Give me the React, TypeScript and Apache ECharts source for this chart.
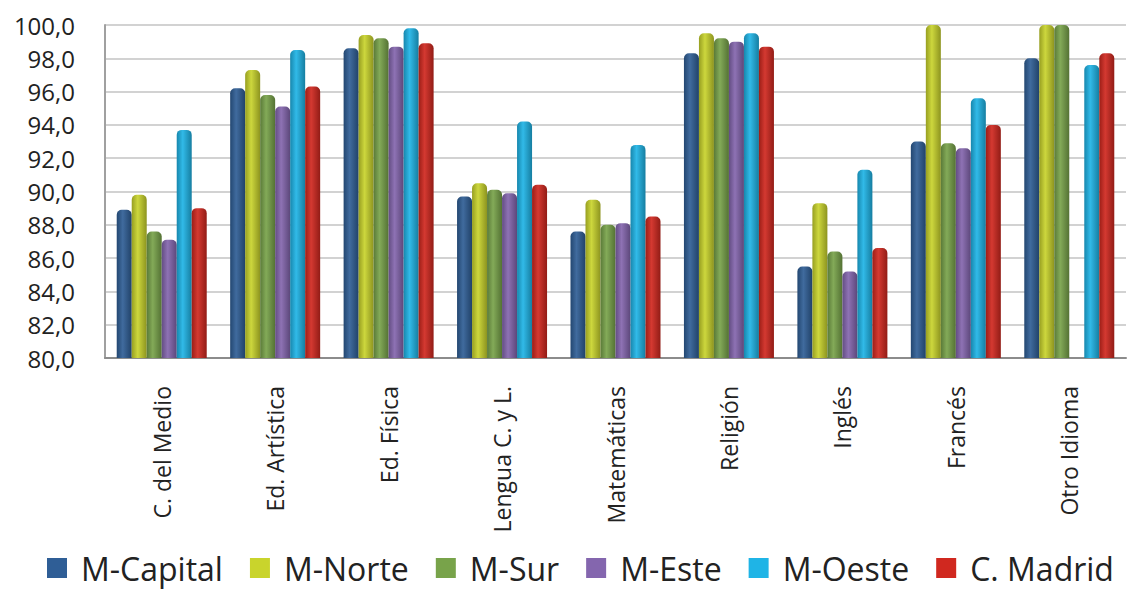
import React, { useEffect, useRef } from "react";
import * as echarts from "echarts";

const categories = [
  "C. del Medio",
  "Ed. Artística",
  "Ed. Física",
  "Lengua C. y L.",
  "Matemáticas",
  "Religión",
  "Inglés",
  "Francés",
  "Otro Idioma",
];

const seriesNames = ["M-Capital", "M-Norte", "M-Sur", "M-Este", "M-Oeste", "C. Madrid"];

const mCapital = [88.9, 96.2, 98.6, 89.7, 87.6, 98.3, 85.5, 93.0, 98.0];
const mNorte = [89.8, 97.3, 99.4, 90.5, 89.5, 99.5, 89.3, 100.0, 100.0];
const mSur = [87.6, 95.8, 99.2, 90.1, 88.0, 99.2, 86.4, 92.9, 100.0];
const mEste = [87.1, 95.1, 98.7, 89.9, 88.1, 99.0, 85.2, 92.6, null];
const mOeste = [93.7, 98.5, 99.8, 94.2, 92.8, 99.5, 91.3, 95.6, 97.6];
const cMadrid = [89.0, 96.3, 98.9, 90.4, 88.5, 98.7, 86.6, 94.0, 98.3];

const seriesData = [mCapital, mNorte, mSur, mEste, mOeste, cMadrid];
const colors = ["#2F5E96", "#C9D42C", "#78A34A", "#8466AE", "#1FB4E6", "#D0281F"];

const yMin = 80;
const yMax = 100;
const yStep = 2;

function shade(hex: string, f: number): string {
  const n = parseInt(hex.slice(1), 16);
  let r = (n >> 16) & 255, g = (n >> 8) & 255, b = n & 255;
  if (f < 0) {
    r = Math.round(r * (1 + f)); g = Math.round(g * (1 + f)); b = Math.round(b * (1 + f));
  } else {
    r = Math.round(r + (255 - r) * f); g = Math.round(g + (255 - g) * f); b = Math.round(b + (255 - b) * f);
  }
  return `rgb(${r},${g},${b})`;
}

export default function App() {
  const ref = useRef<HTMLDivElement>(null);
  useEffect(() => {
    document.body.style.margin = "0";
    if (!ref.current) return;
    const chart = echarts.init(ref.current, null, { renderer: "svg" });
    const font = "'Open Sans', sans-serif";
    chart.setOption({
      animation: false,
      backgroundColor: "#ffffff",
      grid: { left: 105, width: 1021, top: 25, height: 333 },
      legend: {
        left: 47,
        top: 551,
        padding: 0,
        itemWidth: 20,
        itemHeight: 20,
        itemGap: 27,
        icon: "rect",
        textStyle: {
          fontFamily: font,
          fontSize: 32,
          lineHeight: 34,
          color: "#222",
          padding: [0, 0, 0, 9],
        },
        data: seriesNames.map((n, i) => ({ name: n, itemStyle: { color: colors[i] } })),
      },
      xAxis: {
        type: "category",
        data: categories,
        axisLine: { lineStyle: { color: "#8c8c8c", width: 2 } },
        axisTick: { show: false },
        axisLabel: {
          rotate: 90,
          margin: 28,
          fontFamily: font,
          fontSize: 23,
          color: "#222",
        },
      },
      yAxis: {
        type: "value",
        min: yMin,
        max: yMax,
        interval: yStep,
        axisLine: { show: true, lineStyle: { color: "#a0a0a0", width: 2 } },
        axisTick: { show: false },
        splitLine: { lineStyle: { color: "#d2d2d2", width: 2 } },
        axisLabel: {
          margin: 30,
          fontFamily: font,
          fontSize: 24,
          color: "#222",
          formatter: (v: number) => v.toFixed(1).replace(".", ","),
        },
      },
      series: seriesNames.map((name, i) => ({
        name,
        type: "bar",
        data: seriesData[i],
        barWidth: 15,
        barGap: "0%",
        color: colors[i],
        itemStyle: {
          borderRadius: [5, 5, 0, 0],
          color: new echarts.graphic.LinearGradient(0, 0, 1, 0, [
            { offset: 0, color: shade(colors[i], -0.25) },
            { offset: 0.4, color: shade(colors[i], 0.08) },
            { offset: 1, color: shade(colors[i], -0.3) },
          ]),
        },
      })),
    });
    return () => chart.dispose();
  }, []);
  return <div ref={ref} style={{ width: 1132, height: 589 }} />;
}
